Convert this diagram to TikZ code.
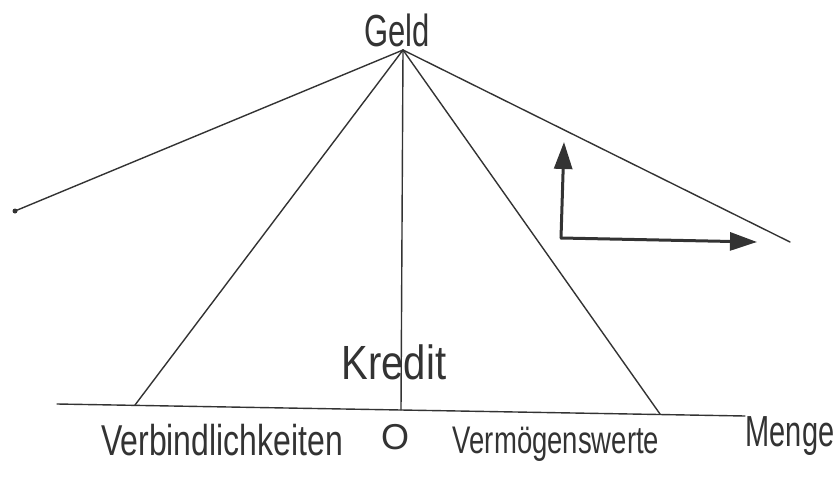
\documentclass[tikz,border=0pt]{standalone}
\usepackage{fontspec}
\usepackage{graphicx}
\setmainfont{Liberation Sans}
\usetikzlibrary{arrows.meta}
\definecolor{pen}{HTML}{333333}
\tikzset{
  penline/.style={draw=pen, line width=1.4pt, line cap=round},
  penarrow/.style={draw=pen, line width=3pt, line cap=round, -{Triangle[length=27pt,width=18pt]}},
  hand/.style={text=pen, inner sep=0pt, anchor=center},
}
\begin{document}
\begin{tikzpicture}[x=1pt,y=-1pt]
\useasboundingbox (0,0) rectangle (835,479);
% points
\coordinate (apex) at (403,50);
\coordinate (far left) at (15,211);
\coordinate (vl) at (135,405);
\coordinate (mid) at (401,410);
\coordinate (vr) at (660,414);
\coordinate (far right) at (790,242);
\coordinate (base l) at (57,404);
\coordinate (base r) at (745,416);
\coordinate (orig) at (561,238);
\coordinate (up) at (564,142);
\coordinate (right) at (757,242);
% lines
\draw[penline] (base l) -- (base r);
\draw[penline] (apex) -- (far left);
\draw[penline] (apex) -- (vl);
\draw[penline] (apex) -- (mid);
\draw[penline] (apex) -- (vr);
\draw[penline] (apex) -- (far right);
\fill[pen] (far left) circle (2.5pt);
% arrows
\draw[penarrow] (orig) -- (up);
\draw[penarrow] (orig) -- (right);
% labels
\node[hand, font=\fontsize{31}{31}\selectfont] (geld) at (397,30) {\scalebox{1}[1.45]{Geld}};
\node[hand, font=\fontsize{40}{40}\selectfont] (kredit) at (394,362) {\scalebox{1}[1.2]{Kredit}};
\node[hand, font=\fontsize{32}{32}\selectfont] (verb) at (222,440) {\scalebox{1}[1.35]{Verbindlichkeiten}};
\node[hand, font=\fontsize{36}{36}\selectfont] (zero) at (395,437) {O};
\node[hand, font=\fontsize{27.5}{27.5}\selectfont] (verm) at (556,444) {\scalebox{1}[1.4]{Vermögenswerte}};
\node[hand, font=\fontsize{29}{29}\selectfont] (menge) at (790,436) {\scalebox{1}[1.5]{Menge}};
\end{tikzpicture}
\end{document}
